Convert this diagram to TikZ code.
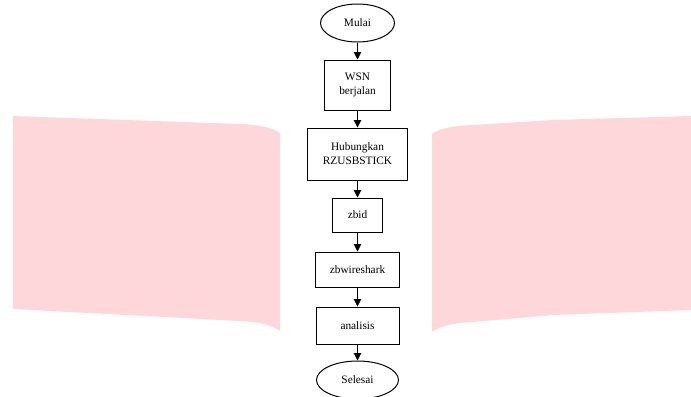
\documentclass[tikz,border=0pt]{standalone}
\usepackage{fontspec}
\setmainfont{Liberation Serif}
\usetikzlibrary{shapes.geometric,arrows.meta}
\definecolor{pinkbg}{RGB}{254,215,218}
\begin{document}
\begin{tikzpicture}[x=0.75pt,y=-0.75pt,
  box/.style={draw=black,line width=0.75pt,rectangle,inner sep=0pt,align=center,font=\fontsize{8.5}{10.5}\selectfont},
  term/.style={draw=black,line width=0.75pt,ellipse,inner sep=0pt,font=\fontsize{8.5}{10.5}\selectfont},
  arr/.style={line width=0.75pt,-{Triangle[width=5.5pt,length=5.5pt]}}]
\useasboundingbox (0,0) rectangle (691,396);
% pink background shapes
\fill[pinkbg] (13,116) -- (240,124) .. controls (262,125) and (273,128) .. (280,133)
  -- (280,331) .. controls (272,326) and (262,322) .. (240,321) -- (13,309) -- cycle;
\fill[pinkbg] (691,116) -- (553,120) -- (472,125) .. controls (450,126) and (439,129) .. (432,134)
  -- (432,332) .. controls (439,327) and (450,323) .. (472,322) -- (553,315) -- (691,310) -- cycle;
% nodes
\node[term,minimum width=55.5pt,minimum height=28.5pt] (mulai) at (357.5,23) {Mulai};
\node[box,minimum width=49.5pt,minimum height=37.5pt] (wsn) at (357.5,85) {WSN\\berjalan};
\node[box,minimum width=75pt,minimum height=39pt] (hub) at (357.5,154) {Hubungkan\\RZUSBSTICK};
\node[box,minimum width=37.5pt,minimum height=25.5pt] (zbid) at (357.5,215) {zbid};
\node[box,minimum width=63pt,minimum height=26.25pt] (zbw) at (357.5,269.5) {zbwireshark};
\node[box,minimum width=62.25pt,minimum height=27.75pt] (anal) at (357.5,325.5) {analisis};
\node[term,minimum width=61.5pt,minimum height=28.5pt] (selesai) at (357.5,380) {Selesai};
% connectors
\draw[arr] (mulai) -- (wsn);
\draw[arr] (wsn) -- (hub);
\draw[arr] (hub) -- (zbid);
\draw[arr] (zbid) -- (zbw);
\draw[arr] (zbw) -- (anal);
\draw[arr] (anal) -- (selesai);
\end{tikzpicture}
\end{document}
